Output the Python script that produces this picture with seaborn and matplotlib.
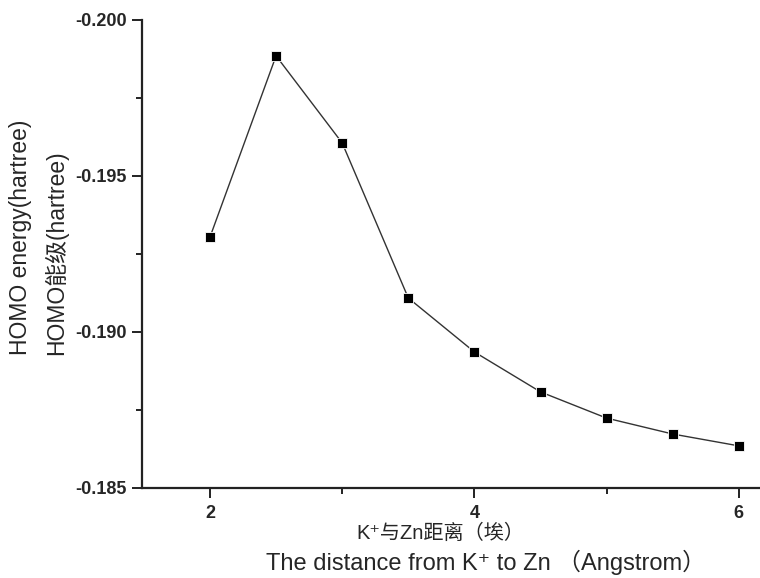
import numpy as np
import pandas as pd
import seaborn as sns
import matplotlib.pyplot as plt

# distance K+ to Zn (Angstrom) and HOMO energy (hartree)
distance = [2.0, 2.5, 3.0, 3.5, 4.0, 4.5, 5.0, 5.5, 6.0]
homo = [-0.19304, -0.19885, -0.19606, -0.19109, -0.18936, -0.18808, -0.18724, -0.18673, -0.18635]
yticks = [-0.200, -0.195, -0.190, -0.185]
ytick_labels = ['-0.200', '-0.195', '-0.190', '-0.185']

df = pd.DataFrame({'distance': distance, 'homo': homo})

sns.set_style('ticks')
plt.rcParams['font.family'] = ['Liberation Sans', 'Noto Sans CJK SC', 'DejaVu Sans']

W, H = 760, 578
fig = plt.figure(figsize=(7.6, 5.78), dpi=100)
ax = fig.add_axes([142 / W, 1 - 488 / H, 1 - 142 / W, (488 - 20) / H])

sns.lineplot(data=df, x='distance', y='homo', ax=ax, color='#333333', linewidth=1.0,
             marker='s', markersize=7.5, markerfacecolor='black', markeredgecolor='white',
             markeredgewidth=0.6)

ax.set_xlim(1.486, 6.16)
ax.set_ylim(-0.185, -0.200)
ax.set_xticks([2, 4, 6])
ax.set_xticks([3, 5], minor=True)
ax.set_yticks(yticks)
ax.set_yticks([-0.1975, -0.1925, -0.1875], minor=True)
ax.set_yticklabels(ytick_labels)

for lab in ax.get_xticklabels() + ax.get_yticklabels():
    lab.set_fontweight('bold')
    lab.set_fontsize(13)

ax.tick_params(which='major', direction='out', length=7, width=1.4, color='#222222', pad=4)
ax.tick_params(axis='x', which='major', pad=5)
ax.tick_params(which='minor', direction='out', length=4, width=1.4, color='#222222')

for s in ['top', 'right']:
    ax.spines[s].set_visible(False)
for s in ['left', 'bottom']:
    ax.spines[s].set_linewidth(1.6)
    ax.spines[s].set_color('#222222')

ax.set_xlabel('')
ax.set_ylabel('')

# axis titles (two lines each)
fig.text(440 / W, 1 - 533 / H, 'K\u207a与Zn距离（埃）', fontsize=14.5, ha='center', va='center')
fig.text(486 / W, 1 - 570 / H, 'The distance from K\u207a to Zn （Angstrom）',
         fontsize=17, ha='center', va='baseline')
fig.text(21 / W, 1 - 355 / H, 'HOMO energy(hartree)', fontsize=16.5, rotation=90,
         ha='center', va='bottom')
fig.text(56 / W, 1 - 355 / H, 'HOMO能级(hartree)', fontsize=16.5, rotation=90,
         ha='center', va='bottom')

fig.savefig('out.png', dpi=100)
